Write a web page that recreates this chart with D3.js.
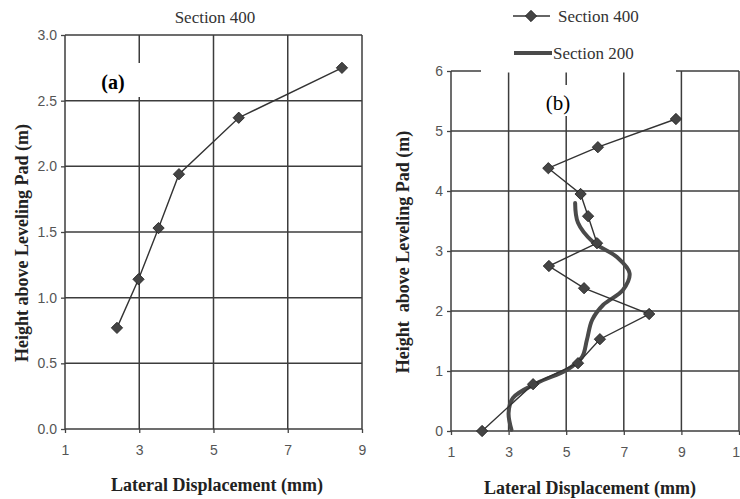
<!DOCTYPE html>
<html>
<head>
<meta charset="utf-8">
<script src="https://cdn.jsdelivr.net/npm/d3@7"></script>
<style>
  body { margin: 0; background: #fff; }
  svg { display: block; font-family: "Liberation Serif", "DejaVu Serif", serif; }
  .tick text { fill: #555; font-size: 14px; }
  .tick line { stroke: #444; stroke-width: 1.3; }
  .domain { display: none; }
</style>
</head>
<body>
<svg id="chart" width="740" height="499"></svg>
<script>
// ---- data ----
// (a) Section 400
const aDisp   = [2.4, 2.98, 3.52, 4.07, 5.68, 8.46];
const aHeight = [0.77, 1.14, 1.53, 1.94, 2.37, 2.75];
const aXTicks = [1, 3, 5, 7, 9];
const aYTicks = [0, 0.5, 1.0, 1.5, 2.0, 2.5, 3.0];

// (b) Section 400 (markers) and Section 200 (thick curve)
const b400Disp   = [8.81, 6.1, 4.38, 5.5, 5.76, 6.07, 4.4, 5.62, 7.88, 6.17, 5.41, 3.85, 2.08];
const b400Height = [5.2, 4.73, 4.38, 3.95, 3.58, 3.13, 2.75, 2.38, 1.95, 1.53, 1.13, 0.78, 0];
const b200Disp   = [5.31, 5.41, 5.93, 6.76, 7.2, 6.97, 6.28, 5.9, 5.72, 5.55, 5.03, 3.99, 3.15, 3.0, 3.1];
const b200Height = [3.8, 3.47, 3.15, 2.9, 2.63, 2.35, 2.1, 1.85, 1.52, 1.23, 1.02, 0.8, 0.55, 0.3, 0.02];
const bXTicks = [1, 3, 5, 7, 9, 11];
const bYTicks = [0, 1, 2, 3, 4, 5, 6];

const svg = d3.select('#chart');
const gridColor = '#3c3c3c';
const lineColor = '#333';
const markColor = '#444';

const diamond = d3.symbol().type(d3.symbolSquare).size(64);

function drawGrid(g, x, y, xt, yt) {
  g.selectAll('line.vg').data(xt).enter().append('line')
    .attr('class', 'vg')
    .attr('x1', d => x(d)).attr('x2', d => x(d))
    .attr('y1', y.range()[0]).attr('y2', y.range()[1])
    .attr('stroke', gridColor).attr('stroke-width', 1.5);
  g.selectAll('line.hg').data(yt).enter().append('line')
    .attr('class', 'hg')
    .attr('x1', x.range()[0]).attr('x2', x.range()[1])
    .attr('y1', d => y(d)).attr('y2', d => y(d))
    .attr('stroke', gridColor).attr('stroke-width', 1.5);
}

function drawAxes(g, x, y, xt, yt, yfmt) {
  g.append('g')
    .attr('transform', `translate(0,${y.range()[0]})`)
    .call(d3.axisBottom(x).tickValues(xt).tickSize(4).tickPadding(12).tickFormat(d3.format('d')));
  g.append('g')
    .attr('transform', `translate(${x.range()[0]},0)`)
    .call(d3.axisLeft(y).tickValues(yt).tickSize(4).tickPadding(4).tickFormat(d3.format(yfmt)));
}

function drawMarkers(g, x, y, xs, ys) {
  const pts = xs.map((v, i) => [v, ys[i]]);
  g.append('path')
    .attr('d', d3.line().x(d => x(d[0])).y(d => y(d[1]))(pts))
    .attr('fill', 'none').attr('stroke', lineColor).attr('stroke-width', 1.4);
  g.selectAll('path.mk').data(pts).enter().append('path')
    .attr('class', 'mk')
    .attr('d', diamond)
    .attr('transform', d => `translate(${x(d[0])},${y(d[1])}) rotate(45)`)
    .attr('fill', markColor).attr('stroke', '#222').attr('stroke-width', 0.8);
}

// ---------- panel (a) ----------
const xA = d3.scaleLinear().domain([1, 9]).range([65, 362]);
const yA = d3.scaleLinear().domain([0, 3]).range([429, 35]);
const gA = svg.append('g');
drawGrid(gA, xA, yA, aXTicks, aYTicks);
drawAxes(gA, xA, yA, aXTicks, aYTicks, '.1f');
gA.append('rect').attr('x', 96).attr('y', 63).attr('width', 46).attr('height', 34).attr('fill', '#fff');
gA.append('text').attr('x', 113).attr('y', 89).attr('text-anchor', 'middle')
  .attr('font-weight', 'bold').attr('font-size', 20).text('(a)');
drawMarkers(gA, xA, yA, aDisp, aHeight);

gA.append('text').attr('x', 215).attr('y', 23).attr('text-anchor', 'middle')
  .attr('font-size', 17).attr('fill', '#333').text('Section 400');
gA.append('text').attr('x', 217).attr('y', 491).attr('text-anchor', 'middle')
  .attr('font-weight', 'bold').attr('font-size', 18).attr('fill', '#222').text('Lateral Displacement (mm)');
gA.append('text').attr('transform', 'translate(28,243) rotate(-90)').attr('text-anchor', 'middle')
  .attr('font-weight', 'bold').attr('font-size', 18).attr('fill', '#222').text('Height above Leveling Pad (m)');

// ---------- panel (b) ----------
const xB = d3.scaleLinear().domain([1, 11]).range([451, 739]);
const yB = d3.scaleLinear().domain([0, 6]).range([431, 71]);
const gB = svg.append('g');
drawGrid(gB, xB, yB, bXTicks, bYTicks);
drawAxes(gB, xB, yB, bXTicks, bYTicks, 'd');
// legend box hides part of the top border, label box hides part of a grid line
gB.append('rect').attr('x', 481).attr('y', 0).attr('width', 195).attr('height', 72.5).attr('fill', '#fff');
gB.append('rect').attr('x', 540).attr('y', 85).attr('width', 34).attr('height', 31).attr('fill', '#fff');
gB.append('text').attr('x', 558).attr('y', 110).attr('text-anchor', 'middle')
  .attr('font-size', 21).text('(b)');

const s200 = b200Disp.map((v, i) => [v, b200Height[i]]);
gB.append('path')
  .attr('d', d3.line().curve(d3.curveCatmullRom).x(d => xB(d[0])).y(d => yB(d[1]))(s200))
  .attr('fill', 'none').attr('stroke', '#4a4a4a').attr('stroke-width', 4).attr('stroke-linecap', 'round');
drawMarkers(gB, xB, yB, b400Disp, b400Height);

// legend
const lg = gB.append('g');
lg.append('line').attr('x1', 513).attr('x2', 550).attr('y1', 16).attr('y2', 16)
  .attr('stroke', lineColor).attr('stroke-width', 1.4);
lg.append('path').attr('d', diamond).attr('transform', 'translate(531,16) rotate(45)')
  .attr('fill', markColor).attr('stroke', '#222').attr('stroke-width', 0.8);
lg.append('text').attr('x', 558).attr('y', 22).attr('font-size', 17).attr('fill', '#333').text('Section 400');
lg.append('line').attr('x1', 514).attr('x2', 552).attr('y1', 53).attr('y2', 53)
  .attr('stroke', '#4a4a4a').attr('stroke-width', 4);
lg.append('text').attr('x', 553).attr('y', 59).attr('font-size', 17).attr('fill', '#333').text('Section 200');

gB.append('text').attr('x', 590).attr('y', 494).attr('text-anchor', 'middle')
  .attr('font-weight', 'bold').attr('font-size', 18).attr('fill', '#222').text('Lateral Displacement (mm)');
gB.append('text').attr('transform', 'translate(409,252) rotate(-90)').attr('text-anchor', 'middle')
  .attr('font-weight', 'bold').attr('font-size', 18).attr('fill', '#222')
  .style('white-space', 'pre').text('Height  above Leveling Pad (m)');
</script>
</body>
</html>
